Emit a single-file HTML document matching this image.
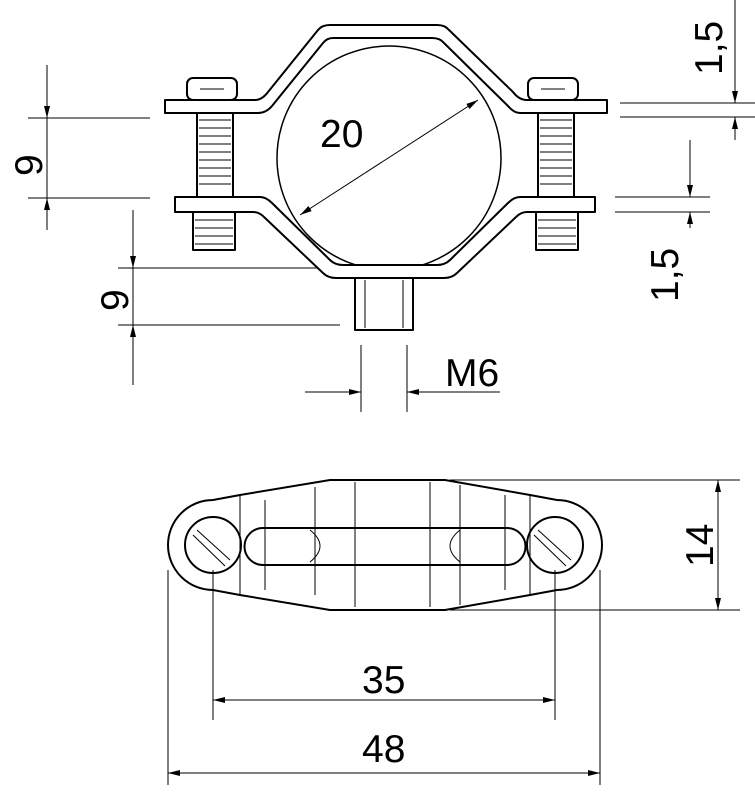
<!DOCTYPE html>
<html><head><meta charset="utf-8"><style>
html,body{margin:0;padding:0;background:#fff}
svg{display:block}
text{font-family:"Liberation Sans",sans-serif;font-size:39px;fill:#000}
</style></head><body>
<svg width="755" height="794" viewBox="0 0 755 794" xmlns="http://www.w3.org/2000/svg">
<defs>
<marker id="a" viewBox="0 0 12 6" refX="12" refY="3" markerWidth="12" markerHeight="6" orient="auto-start-reverse" markerUnits="userSpaceOnUse"><path d="M0,0 L12,3 L0,6 z" fill="#000"/></marker>
</defs>
<g fill="none" stroke="#000" stroke-width="1">
<line x1="28" y1="118" x2="150" y2="118"/><line x1="28" y1="198" x2="150" y2="198"/>
<line x1="47" y1="65" x2="47" y2="118" marker-end="url(#a)"/><line x1="47" y1="198" x2="47" y2="230" marker-start="url(#a)"/>
<line x1="47" y1="118" x2="47" y2="198"/>
<line x1="118" y1="268" x2="340" y2="268"/><line x1="118" y1="325" x2="340" y2="325"/>
<line x1="133" y1="210" x2="133" y2="268" marker-end="url(#a)"/><line x1="133" y1="325" x2="133" y2="385" marker-start="url(#a)"/>
<line x1="133" y1="268" x2="133" y2="325"/>
<line x1="620" y1="103" x2="755" y2="103"/><line x1="620" y1="117" x2="755" y2="117"/>
<line x1="735" y1="0" x2="735" y2="103" marker-end="url(#a)"/><line x1="735" y1="117" x2="735" y2="140" marker-start="url(#a)"/>
<line x1="615" y1="197" x2="710" y2="197"/><line x1="615" y1="212" x2="710" y2="212"/>
<line x1="690" y1="140" x2="690" y2="197" marker-end="url(#a)"/><line x1="690" y1="212" x2="690" y2="228" marker-start="url(#a)"/>
<line x1="361" y1="345" x2="361" y2="412"/><line x1="407" y1="345" x2="407" y2="412"/>
<line x1="305" y1="392" x2="361" y2="392" marker-end="url(#a)"/><line x1="500" y1="392" x2="407" y2="392" marker-end="url(#a)"/>
<line x1="300" y1="215" x2="478" y2="100" marker-start="url(#a)" marker-end="url(#a)"/>
</g>
<g fill="none" stroke="#000" stroke-width="2" stroke-linejoin="round">
<circle cx="389" cy="158" r="112" stroke-width="1.5"/>
<path d="M165,100 L255,100 Q262,100 268,92 L318,30 Q322,25 330,25 L437,25 Q445,25 449,30 L513,92 Q519,100 527,100 L607,100 L607,113 L520,113 Q514,113 508,106 L444,43 Q440,38 432,38 L333,38 Q327,38 323,43 L272,106 Q266,113 258,113 L165,113 Z" fill="#fff"/>
<path d="M175,197 L260,197 Q266,197 272,203 L330,260 Q335,265 343,265 L437,265 Q445,265 450,260 L508,203 Q514,197 520,197 L595,197 L595,212 L527,212 Q521,212 516,217 L457,273 Q452,278 444,278 L336,278 Q328,278 323,273 L264,217 Q259,212 253,212 L175,212 Z" fill="#fff"/>
<rect x="187" y="78" width="50" height="22" rx="6" fill="#fff"/>
<rect x="528" y="78" width="50" height="22" rx="6" fill="#fff"/>
<rect x="197" y="113" width="36" height="84" fill="#fff"/>
<rect x="538" y="113" width="36" height="84" fill="#fff"/>
<rect x="193" y="212" width="42" height="38" fill="#fff"/>
<rect x="536" y="212" width="42" height="38" fill="#fff"/>
<rect x="355" y="278" width="58" height="52" fill="#fff"/>
</g>
<g stroke="#000" stroke-width="1">
<path d="M199,120h32M199,128h32M199,136h32M199,144h32M199,152h32M199,160h32M199,168h32M199,176h32M199,184h32M195,220h38M195,228h38M195,236h38M195,244h38"/>
<path d="M540,120h32M540,128h32M540,136h32M540,144h32M540,152h32M540,160h32M540,168h32M540,176h32M540,184h32M538,220h38M538,228h38M538,236h38M538,244h38"/>
<path d="M200,89h24M541,89h24M365,280v48M403,280v48"/>
</g>
<text x="320" y="147">20</text>
<text x="445" y="386">M6</text>
<text transform="translate(42,176) rotate(-90)">9</text>
<text transform="translate(128,311) rotate(-90)">9</text>
<text transform="translate(722,75) rotate(-90)">1,5</text>
<text transform="translate(678,302) rotate(-90)">1,5</text>
<g fill="none" stroke="#000" stroke-width="2">
<path d="M213,500 L240,495 L330,480 L445,480 L530,495 L557,500 A45,45 0 0 1 557,590 L530,595 L445,610 L330,610 L240,595 L213,590 A45,45 0 0 1 213,500 Z" fill="#fff"/>
<circle cx="213" cy="545" r="28"/><circle cx="555" cy="545" r="28"/>
<path d="M263,528 L507,528 A18,18 0 0 1 507,565 L263,565 A18,18 0 0 1 263,528 Z"/>
</g>
<g stroke="#000" stroke-width="1" fill="none">
<path d="M197,530 L230,560 M193,535 L225,566 M538,530 L571,560 M534,535 L566,566"/>
<path d="M265,500v90M315,487v108M355,482v125M430,482v125M460,485v120M505,495v95M240,495v100M530,495v100"/>
<path d="M310,530 Q330,546 310,562 M460,530 Q440,546 460,562"/>
<line x1="450" y1="480" x2="740" y2="480"/><line x1="450" y1="610" x2="740" y2="610"/>
<line x1="718" y1="480" x2="718" y2="610" marker-start="url(#a)" marker-end="url(#a)"/>
<line x1="213" y1="570" x2="213" y2="720"/><line x1="555" y1="570" x2="555" y2="720"/>
<line x1="213" y1="700" x2="555" y2="700" marker-start="url(#a)" marker-end="url(#a)"/>
<line x1="168" y1="570" x2="168" y2="785"/><line x1="600" y1="570" x2="600" y2="785"/>
<line x1="168" y1="773" x2="600" y2="773" marker-start="url(#a)" marker-end="url(#a)"/>
</g>
<text x="362" y="693">35</text>
<text x="362" y="762">48</text>
<text transform="translate(713,567) rotate(-90)">14</text>
</svg>
</body></html>
